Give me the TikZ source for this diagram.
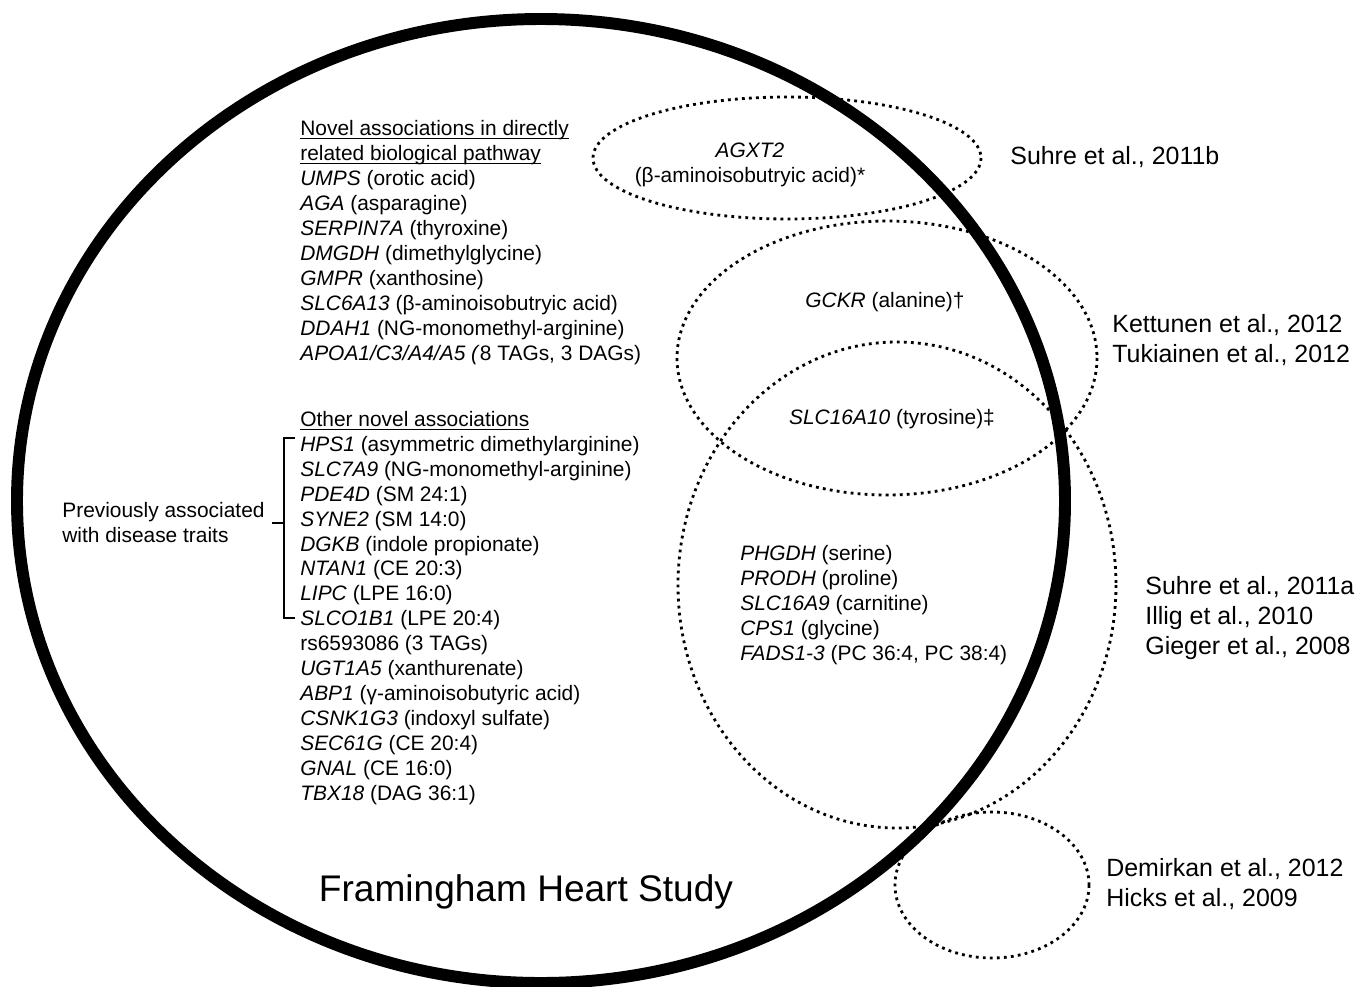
\documentclass[tikz,border=0pt]{standalone}
\usepackage{fontspec}
\setmainfont{Liberation Sans}
\newcommand{\headline}[1]{\underline{\smash{#1}}}
\usetikzlibrary{positioning}
\tikzset{%
  fhs/.style={line width=6.8pt},
  cohort/.style={line width=1.6pt,dash pattern=on 1.6pt off 2.4pt},
  genes/.style={align=left,inner sep=0pt,font=\fontsize{11.9}{14.17}\selectfont},
  cite/.style={align=left,inner sep=0pt,font=\fontsize{14.2}{17}\selectfont},
  bracket/.style={line width=1.1pt}%
}

\begin{document}
\begin{tikzpicture}[x=0.02cm,y=-0.02cm]
  \useasboundingbox (0,0) rectangle (1356,987);

  % other studies
  \draw[cohort] (787,158) ellipse [x radius=194, y radius=61];
  \draw[cohort] (887,358) ellipse [x radius=210, y radius=137];
  \draw[cohort] (897,585) ellipse [x radius=219, y radius=243];
  \draw[cohort] (992,885) ellipse [x radius=97, y radius=73];
  % Framingham
  \draw[fhs] (541,501) ellipse [x radius=524, y radius=482];

  % base anchor = last line
  \node (novel) [genes, anchor=base west] at (300,360) {%
    \headline{Novel associations in directly}\\
    \headline{related biological pathway}\\
    \textit{UMPS} (orotic acid)\\
    \textit{AGA} (asparagine)\\
    \textit{SERPIN7A} (thyroxine)\\
    \textit{DMGDH} (dimethylglycine)\\
    \textit{GMPR} (xanthosine)\\
    \textit{SLC6A13} (β-aminoisobutryic acid)\\
    \textit{DDAH1} (NG-monomethyl-arginine)\\
    \textit{APOA1/C3/A4/A5 (}8 TAGs, 3 DAGs)};

  \node (other) [genes, anchor=base west] at (300,800) {%
    \headline{Other novel associations}\\
    \textit{HPS1} (asymmetric dimethylarginine)\\
    \textit{SLC7A9} (NG-monomethyl-arginine)\\
    \textit{PDE4D} (SM 24:1)\\
    \textit{SYNE2} (SM 14:0)\\
    \textit{DGKB} (indole propionate)\\
    \textit{NTAN1} (CE 20:3)\\
    \textit{LIPC} (LPE 16:0)\\
    \textit{SLCO1B1} (LPE 20:4)\\
    rs6593086 (3 TAGs)\\
    \textit{UGT1A5} (xanthurenate)\\
    \textit{ABP1} (γ-aminoisobutyric acid)\\
    \textit{CSNK1G3} (indoxyl sulfate)\\
    \textit{SEC61G} (CE 20:4)\\
    \textit{GNAL} (CE 16:0)\\
    \textit{TBX18} (DAG 36:1)};

  % bracket for disease traits
  \coordinate (brtop) at (295,438);
  \coordinate (brbot) at (295,618);
  \coordinate (brmid) at (284,523);
  \draw[bracket] (brtop) -- (284,438) -- (284,618) -- (brbot);
  \draw[bracket] (brmid) -- ++(-12,0) coordinate (brtip);
  \node (disease) [genes, anchor=base west] at (62,542) {Previously associated\\with disease traits};

  \node (agxt) [genes, align=center, anchor=base] at (750,182) {\textit{AGXT2}\\(β-aminoisobutryic acid)*};
  \node (gckr) [genes, anchor=base] at (885,307) {\textit{GCKR} (alanine)†};
  \node (slc16) [genes, anchor=base] at (892,424) {\textit{SLC16A10} (tyrosine)‡};
  \node (phgdh) [genes, anchor=base west] at (740,660) {%
    \textit{PHGDH} (serine)\\
    \textit{PRODH} (proline)\\
    \textit{SLC16A9} (carnitine)\\
    \textit{CPS1} (glycine)\\
    \textit{FADS1-3} (PC 36:4, PC 38:4)};

  \node (fhslabel) [anchor=base, inner sep=0pt, font=\fontsize{21.1}{25}\selectfont] at (526,901) {Framingham Heart Study};

  \node (suhreb) [cite, anchor=base west] at (1010,164) {Suhre et al., 2011b};
  \node (kettunen) [cite, anchor=base west] at (1112,362) {Kettunen et al., 2012\\Tukiainen et al., 2012};
  \node (suhrea) [cite, anchor=base west] at (1145,654) {Suhre et al., 2011a\\Illig et al., 2010\\Gieger et al., 2008};
  \node (demirkan) [cite, anchor=base west] at (1106,906) {Demirkan et al., 2012\\Hicks et al., 2009};
\end{tikzpicture}
\end{document}
